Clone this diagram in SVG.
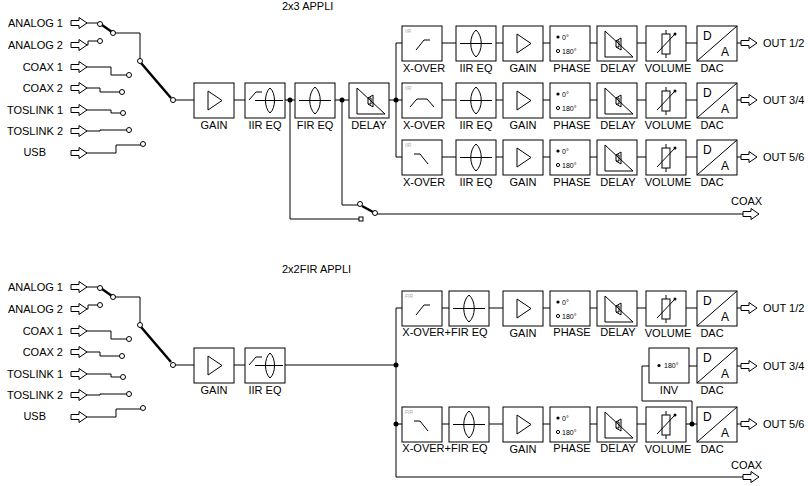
<svg xmlns="http://www.w3.org/2000/svg" xmlns:xlink="http://www.w3.org/1999/xlink" width="810" height="486" viewBox="0 0 810 486">
<style>
text{font-family:"Liberation Sans",Arial,sans-serif;font-size:11px;fill:#000}
.c{text-anchor:middle}.r{text-anchor:end}
.w{fill:none;stroke:#000;stroke-width:1}
.b{fill:#fff;stroke:#000;stroke-width:1}
.s{font-size:7px}.t{font-size:5px;fill:#aaa}
.k{stroke:#000;stroke-width:2.5}
</style>
<defs>
<g id="box"><rect class="b" x="0" y="0" width="40" height="35"/></g>
<g id="gain"><use href="#box"/><path class="w" d="M14,8 V27 L28,17.5 Z"/></g>
<g id="bell"><path class="w" d="M4,17.5 H36 M20,4 C13,10 13,25 20,31 M20,4 C27,10 27,25 20,31"/></g>
<g id="eq"><use href="#box"/><use href="#bell"/></g>
<g id="iireq"><use href="#box"/><path class="w" d="M4,17 L11,9 H17 M10,17.5 H38 M25,5 C19,10 19,25 25,30 M25,5 C31,10 31,25 25,30"/></g>
<g id="delay"><use href="#box"/><path class="w" d="M8,5 V31 H36 Z M24,12 L19,15 V21 L24,24 Z M19,15 H22 V21 H19"/></g>
<g id="vol"><use href="#box"/><rect class="w" x="16" y="8" width="8" height="20"/><path class="w" d="M20,4 V8 M20,28 V32 M11,27 L29,8"/><circle cx="29" cy="8" r="1.5"/></g>
<g id="dac"><use href="#box"/><path class="w" d="M0,35 L40,0"/><text x="6" y="14" style="font-size:12px">D</text><text x="24" y="30" style="font-size:12px">A</text></g>
<g id="phase"><use href="#box"/><circle cx="8" cy="11" r="1.6"/><text class="s" x="12" y="13.5">0°</text><circle class="w" cx="8" cy="25" r="1.6"/><text class="s" x="12" y="27.5">180°</text></g>
<g id="xlp"><use href="#box"/><text class="t" x="3" y="7">IIR</text><path class="w" d="M14,24 L22,14 H28"/></g>
<g id="xbp"><use href="#box"/><text class="t" x="3" y="7">IIR</text><path class="w" d="M8,24 L15,16 H25 L32,24"/></g>
<g id="xhp"><use href="#box"/><text class="t" x="3" y="7">IIR</text><path class="w" d="M12,14 H18 L26,24"/></g>
<g id="fxlp"><use href="#box"/><text class="t" x="3" y="7">FIR</text><path class="w" d="M14,24 L22,14 H28"/></g>
<g id="fxhp"><use href="#box"/><text class="t" x="3" y="7">FIR</text><path class="w" d="M12,14 H18 L26,24"/></g>
<g id="inv"><use href="#box"/><circle cx="10" cy="17.5" r="1.6"/><text class="s" x="15" y="20">180°</text></g>
<path id="arr" class="b" d="M0,-2.5 H8 V-5.5 L16,0 L8,5.5 V2.5 H0 Z"/>
</defs>

<text x="282" y="10">2x3 APPLI</text>
<text x="282" y="273">2x2FIR  APPLI</text>

<g id="connectors" class="w">
<path d="M86,23 H98 M86,45 H88 V41 H98 M86,67 H111 V75 H127 M86,88 H100 V92 H120 M86,110 H111 V113 H121 M86,131 H100 V130 H127 M86,153 H116 V145 H141"/>
<path d="M115,33 H140 V59"/>
<path class="k" d="M102,25 L112,32 M141,63 L171,98"/>
<path d="M175,100 H194 M234,100 H245 M285,100 H295 M335,100 H349 M388,100 H396"/>
<path d="M396,43 V157 M396,43 H402 M396,100 H402 M396,157 H402"/>
<path d="M290,100 V219 H359 M342,100 V205 H358"/>
<path class="k" d="M362,206 L373,212"/>
<path d="M377,214 H743"/>
<path d="M442,43 H456 M496,43 H503 M543,43 H550 M590,43 H597 M637,43 H646 M686,43 H697 M737,43 H741"/>
<path d="M442,100 H456 M496,100 H503 M543,100 H550 M590,100 H597 M637,100 H646 M686,100 H697 M737,100 H741"/>
<path d="M442,157 H456 M496,157 H503 M543,157 H550 M590,157 H597 M637,157 H646 M686,157 H697 M737,157 H741"/>
<path d="M86,287 H98 M86,309 H88 V305 H98 M86,331 H111 V339 H127 M86,352 H100 V356 H120 M86,374 H111 V377 H121 M86,395 H100 V394 H127 M86,417 H116 V409 H141"/>
<path d="M115,297 H140 V323"/>
<path class="k" d="M102,289 L112,296 M141,327 L171,362"/>
<path d="M175,365 H194 M234,365 H245 M285,365 H396 M396,308 V477 H743 M396,308 H402 M396,424 H402"/>
<path d="M442,308 H449 M489,308 H503 M543,308 H550 M590,308 H597 M637,308 H646 M686,308 H697 M737,308 H741"/>
<path d="M442,424 H449 M489,424 H503 M543,424 H550 M590,424 H597 M637,424 H646 M686,424 H697 M737,424 H741"/>
<path d="M649,366 H642 V401 H692 V424 M689,366 H697 M737,366 H741"/>
</g>

<g id="switches" fill="#fff" stroke="#000">
<circle cx="100" cy="24" r="2.5"/><circle cx="113" cy="33" r="2.5"/><circle cx="100" cy="41" r="2.5"/><circle cx="129" cy="75" r="2.5"/><circle cx="122" cy="92" r="2.5"/><circle cx="123" cy="113" r="2.5"/><circle cx="129" cy="130" r="2.5"/><circle cx="143" cy="144" r="2.5"/><circle cx="140" cy="61" r="2.5"/><circle cx="173" cy="100" r="2.5"/>
<circle cx="360" cy="204" r="2.5"/><circle cx="375" cy="213" r="2.5"/><rect x="359" y="217" width="4" height="4"/>
<circle cx="100" cy="288" r="2.5"/><circle cx="113" cy="297" r="2.5"/><circle cx="100" cy="305" r="2.5"/><circle cx="129" cy="339" r="2.5"/><circle cx="122" cy="356" r="2.5"/><circle cx="123" cy="377" r="2.5"/><circle cx="129" cy="394" r="2.5"/><circle cx="143" cy="408" r="2.5"/><circle cx="140" cy="325" r="2.5"/><circle cx="173" cy="365" r="2.5"/>
</g>
<g id="dots"><circle cx="290" cy="100" r="2.5"/><circle cx="342" cy="100" r="2.5"/><circle cx="396" cy="100" r="2.5"/><circle cx="396" cy="365" r="2.5"/><circle cx="396" cy="424" r="2.5"/><circle cx="692" cy="424" r="2.5"/></g>

<g id="inputs-top">
<text class="r" x="63" y="27">ANALOG 1</text><use href="#arr" x="71" y="23"/>
<text class="r" x="63" y="49">ANALOG 2</text><use href="#arr" x="71" y="45"/>
<text class="r" x="63" y="71">COAX 1</text><use href="#arr" x="71" y="67"/>
<text class="r" x="63" y="92">COAX 2</text><use href="#arr" x="71" y="88"/>
<text class="r" x="63" y="114">TOSLINK 1</text><use href="#arr" x="71" y="110"/>
<text class="r" x="63" y="135">TOSLINK 2</text><use href="#arr" x="71" y="131"/>
<text class="r" x="46" y="156">USB</text><use href="#arr" x="71" y="153"/>
</g>
<g id="inputs-bottom">
<text class="r" x="63" y="291">ANALOG 1</text><use href="#arr" x="71" y="287"/>
<text class="r" x="63" y="313">ANALOG 2</text><use href="#arr" x="71" y="309"/>
<text class="r" x="63" y="335">COAX 1</text><use href="#arr" x="71" y="331"/>
<text class="r" x="63" y="356">COAX 2</text><use href="#arr" x="71" y="352"/>
<text class="r" x="63" y="378">TOSLINK 1</text><use href="#arr" x="71" y="374"/>
<text class="r" x="63" y="399">TOSLINK 2</text><use href="#arr" x="71" y="395"/>
<text class="r" x="46" y="420">USB</text><use href="#arr" x="71" y="417"/>
</g>

<g id="main-top">
<use href="#gain" x="194" y="83"/><text class="c" x="214" y="129">GAIN</text>
<use href="#iireq" x="245" y="83"/><text class="c" x="265" y="129">IIR EQ</text>
<use href="#eq" x="295" y="83"/><text class="c" x="315" y="129">FIR EQ</text>
<use href="#delay" x="349" y="83"/><text class="c" x="369" y="129">DELAY</text>
</g>

<g id="row1-top">
<use href="#xlp" x="402" y="26"/><text class="c" x="424" y="72">X-OVER</text>
<use href="#eq" x="456" y="26"/><text class="c" x="476" y="72">IIR EQ</text>
<use href="#gain" x="503" y="26"/><text class="c" x="523" y="72">GAIN</text>
<use href="#phase" x="550" y="26"/><text class="c" x="572" y="72">PHASE</text>
<use href="#delay" x="597" y="26"/><text class="c" x="618" y="72">DELAY</text>
<use href="#vol" x="646" y="26"/><text class="c" x="668" y="72">VOLUME</text>
<use href="#dac" x="697" y="26"/><text class="c" x="712" y="72">DAC</text>
<use href="#arr" x="741" y="43"/><text x="763" y="47">OUT 1/2</text>
</g>
<g id="row2-top">
<use href="#xbp" x="402" y="83"/><text class="c" x="424" y="129">X-OVER</text>
<use href="#eq" x="456" y="83"/><text class="c" x="476" y="129">IIR EQ</text>
<use href="#gain" x="503" y="83"/><text class="c" x="523" y="129">GAIN</text>
<use href="#phase" x="550" y="83"/><text class="c" x="572" y="129">PHASE</text>
<use href="#delay" x="597" y="83"/><text class="c" x="618" y="129">DELAY</text>
<use href="#vol" x="646" y="83"/><text class="c" x="668" y="129">VOLUME</text>
<use href="#dac" x="697" y="83"/><text class="c" x="712" y="129">DAC</text>
<use href="#arr" x="741" y="100"/><text x="763" y="104">OUT 3/4</text>
</g>
<g id="row3-top">
<use href="#xhp" x="402" y="140"/><text class="c" x="424" y="186">X-OVER</text>
<use href="#eq" x="456" y="140"/><text class="c" x="476" y="186">IIR EQ</text>
<use href="#gain" x="503" y="140"/><text class="c" x="523" y="186">GAIN</text>
<use href="#phase" x="550" y="140"/><text class="c" x="572" y="186">PHASE</text>
<use href="#delay" x="597" y="140"/><text class="c" x="618" y="186">DELAY</text>
<use href="#vol" x="646" y="140"/><text class="c" x="668" y="186">VOLUME</text>
<use href="#dac" x="697" y="140"/><text class="c" x="712" y="186">DAC</text>
<use href="#arr" x="741" y="157"/><text x="763" y="161">OUT 5/6</text>
</g>
<g id="coax-top"><text x="731" y="205">COAX</text><use href="#arr" x="743" y="214"/></g>

<g id="main-bottom">
<use href="#gain" x="194" y="348"/><text class="c" x="214" y="394">GAIN</text>
<use href="#iireq" x="245" y="348"/><text class="c" x="265" y="394">IIR EQ</text>
</g>
<g id="row1-bottom">
<use href="#fxlp" x="402" y="291"/>
<use href="#eq" x="449" y="291"/><text class="c" x="445" y="336">X-OVER+FIR EQ</text>
<use href="#gain" x="503" y="291"/><text class="c" x="523" y="337">GAIN</text>
<use href="#phase" x="550" y="291"/><text class="c" x="572" y="336">PHASE</text>
<use href="#delay" x="597" y="291"/><text class="c" x="618" y="336">DELAY</text>
<use href="#vol" x="646" y="291"/><text class="c" x="668" y="337">VOLUME</text>
<use href="#dac" x="697" y="291"/><text class="c" x="712" y="337">DAC</text>
<use href="#arr" x="741" y="308"/><text x="763" y="312">OUT 1/2</text>
</g>
<g id="row2-bottom">
<use href="#inv" x="649" y="348"/><text class="c" x="669" y="394">INV</text>
<use href="#dac" x="697" y="348"/><text class="c" x="712" y="394">DAC</text>
<use href="#arr" x="741" y="366"/><text x="763" y="370">OUT 3/4</text>
</g>
<g id="row3-bottom">
<use href="#fxhp" x="402" y="407"/>
<use href="#eq" x="449" y="407"/><text class="c" x="445" y="452">X-OVER+FIR EQ</text>
<use href="#gain" x="503" y="407"/><text class="c" x="523" y="453">GAIN</text>
<use href="#phase" x="550" y="407"/><text class="c" x="572" y="452">PHASE</text>
<use href="#delay" x="597" y="407"/><text class="c" x="618" y="452">DELAY</text>
<use href="#vol" x="646" y="407"/><text class="c" x="668" y="453">VOLUME</text>
<use href="#dac" x="697" y="407"/><text class="c" x="712" y="453">DAC</text>
<use href="#arr" x="741" y="424"/><text x="763" y="428">OUT 5/6</text>
</g>
<g id="coax-bottom"><text x="731" y="469">COAX</text><use href="#arr" x="743" y="477"/></g>
</svg>
